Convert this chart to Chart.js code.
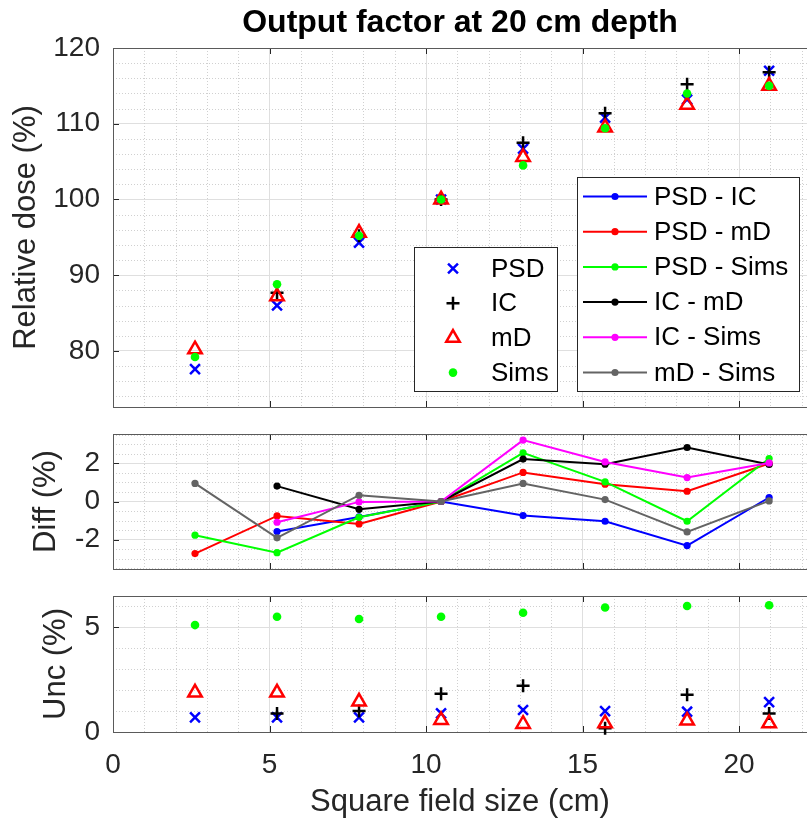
<!DOCTYPE html>
<html>
<head>
<meta charset="utf-8">
<script src="https://cdn.jsdelivr.net/npm/chart.js@4.4.0/dist/chart.umd.min.js"></script>
<style>
  html, body { margin: 0; padding: 0; background: #fff; }
  #wrap { position: relative; width: 807px; height: 825px; overflow: hidden; }
  #wrap canvas { position: absolute; left: 0; top: 0; }
</style>
</head>
<body>
<div id="wrap">
  <canvas id="doseChart" width="807" height="825"></canvas>
  <canvas id="diffChart" width="807" height="825"></canvas>
  <canvas id="uncChart" width="807" height="825"></canvas>
</div>
<script>
// square field sizes (cm)
const fieldSize = [2.62, 5.24, 7.86, 10.48, 13.1, 15.72, 18.34, 20.96];

// relative dose (%)
const dosePSD  = [77.6, 86.0, 94.3, 100, 106.7, 110.8, 113.2, 117.0];
const doseIC   = [null, 87.7, 95.2, 100, 107.5, 111.4, 115.2, 116.8];
const doseMD   = [80.2, 87.2, 95.6, 100, 105.6, 109.5, 112.5, 115.0];
const doseSims = [79.2, 88.8, 95.2, 100, 104.5, 109.4, 114.0, 115.0];

// differences (%)
const diffPsdIc   = [null, -1.58, -0.81, 0, -0.74, -1.04, -2.32, 0.21];
const diffPsdMd   = [-2.74, -0.76, -1.18, 0, 1.53, 0.91, 0.54, 2.0];
const diffPsdSims = [-1.77, -2.69, -0.83, 0, 2.56, 1.03, -1.04, 2.26];
const diffIcMd    = [null, 0.81, -0.41, 0, 2.23, 1.96, 2.84, 1.95];
const diffIcSims  = [null, -1.09, -0.02, 0, 3.23, 2.08, 1.26, 2.03];
const diffMdSims  = [0.95, -1.91, 0.33, 0, 0.95, 0.10, -1.60, 0.03];

// uncertainties (%)
const uncPSD  = [0.70, 0.70, 0.70, 0.89, 1.05, 1.00, 0.97, 1.43];
const uncIC   = [null, 0.89, 1.00, 1.83, 2.21, 0.18, 1.78, 0.89];
const uncMD   = [1.88, 1.88, 1.45, 0.57, 0.38, 0.41, 0.54, 0.41];
const uncSims = [5.11, 5.51, 5.40, 5.51, 5.70, 5.95, 6.02, 6.06];

// tick labels
const xTicks = [0, 5, 10, 15, 20];
const doseTicks = [80, 90, 100, 110, 120];
const diffTicks = [-2, 0, 2];
const uncTicks = [0, 5];

const markerNames = ['PSD', 'IC', 'mD', 'Sims'];
const pairNames = ['PSD - IC', 'PSD - mD', 'PSD - Sims', 'IC - mD', 'IC - Sims', 'mD - Sims'];

// styles
const FONT = '"Liberation Sans", Arial, Helvetica, sans-serif';
const TXT = '#262626';
const markerStyle = [
  { pointStyle: 'crossRot', radius: 7, color: '#0000ff', fill: false, width: 2.5 },
  { pointStyle: 'cross', radius: 6.5, color: '#000000', fill: false, width: 2.5 },
  { pointStyle: 'triangle', radius: 7.8, color: '#ff0000', fill: false, width: 2.5 },
  { pointStyle: 'circle', radius: 4.3, color: '#00ff00', fill: true, width: 0 }
];
const pairColors = ['#0000ff', '#ff0000', '#00ff00', '#000000', '#ff00ff', '#646464'];
const xMax = 22.17;

function pts(arr) {
  return fieldSize.map((x, i) => ({ x: x, y: arr[i] }));
}

function markerSet(i, arr) {
  const m = markerStyle[i];
  return {
    label: markerNames[i],
    data: pts(arr),
    showLine: false,
    order: 10 - i,
    clip: false,
    pointStyle: m.pointStyle,
    pointRadius: m.radius,
    pointBorderColor: m.color,
    pointBackgroundColor: m.fill ? m.color : 'rgba(0,0,0,0)',
    pointBorderWidth: m.width
  };
}

function pairSet(i, arr) {
  return {
    label: pairNames[i],
    data: pts(arr),
    showLine: true,
    order: 10 - i,
    borderColor: pairColors[i],
    borderWidth: 2,
    pointStyle: 'circle',
    pointRadius: 3.6,
    pointBackgroundColor: pairColors[i],
    pointBorderColor: pairColors[i],
    pointBorderWidth: 0
  };
}

// matlab like box, inward ticks and dotted minor grid
const axesBox = {
  id: 'axesBox',
  beforeDatasetsDraw(chart, args, opts) {
    const { ctx, chartArea: a } = chart;
    const xs = chart.scales.x, ys = chart.scales.y;
    ctx.save();
    ctx.lineWidth = 1;
    ctx.strokeStyle = '#d0d0d0';
    ctx.setLineDash([1, 2]);
    const isMajor = (v, step) => Math.abs(v / step - Math.round(v / step)) < 1e-6;
    for (let i = Math.ceil(xs.min / opts.xMinor); i * opts.xMinor <= xs.max; i++) {
      const v = i * opts.xMinor;
      if (isMajor(v, 5)) continue;
      const px = Math.round(xs.getPixelForValue(v)) + 0.5;
      ctx.beginPath(); ctx.moveTo(px, a.top); ctx.lineTo(px, a.bottom); ctx.stroke();
    }
    for (let i = Math.ceil(ys.min / opts.yMinor); i * opts.yMinor <= ys.max; i++) {
      const v = i * opts.yMinor;
      if (isMajor(v, opts.yMajor)) continue;
      const py = Math.round(ys.getPixelForValue(v)) + 0.5;
      ctx.beginPath(); ctx.moveTo(a.left, py); ctx.lineTo(a.right, py); ctx.stroke();
    }
    ctx.setLineDash([]);
    ctx.strokeStyle = TXT;
    xTicks.forEach(v => {
      const px = Math.round(xs.getPixelForValue(v)) + 0.5;
      ctx.beginPath();
      ctx.moveTo(px, a.top); ctx.lineTo(px, a.top + 6);
      ctx.moveTo(px, a.bottom); ctx.lineTo(px, a.bottom - 6);
      ctx.stroke();
    });
    ys.ticks.forEach(t => {
      const py = Math.round(ys.getPixelForValue(t.value)) + 0.5;
      ctx.beginPath(); ctx.moveTo(a.left, py); ctx.lineTo(a.left + 6, py); ctx.stroke();
    });
    ctx.strokeStyle = '#5a5a5a';
    ctx.strokeRect(Math.round(a.left) + 0.5, Math.round(a.top) + 0.5, a.width + 4, Math.round(a.bottom) - Math.round(a.top));
    ctx.restore();
  }
};

function drawMarker(ctx, m, x, y) {
  ctx.save();
  ctx.strokeStyle = m.color;
  ctx.fillStyle = m.color;
  ctx.lineWidth = m.width;
  const r = m.radius;
  ctx.beginPath();
  if (m.pointStyle === 'crossRot') {
    const o = r * Math.SQRT1_2;
    ctx.moveTo(x - o, y - o); ctx.lineTo(x + o, y + o);
    ctx.moveTo(x - o, y + o); ctx.lineTo(x + o, y - o);
    ctx.stroke();
  } else if (m.pointStyle === 'cross') {
    ctx.moveTo(x - r, y); ctx.lineTo(x + r, y);
    ctx.moveTo(x, y - r); ctx.lineTo(x, y + r);
    ctx.stroke();
  } else if (m.pointStyle === 'triangle') {
    ctx.moveTo(x, y - r);
    ctx.lineTo(x + r * 0.866, y + r * 0.5);
    ctx.lineTo(x - r * 0.866, y + r * 0.5);
    ctx.closePath();
    ctx.stroke();
  } else {
    ctx.arc(x, y, r, 0, Math.PI * 2);
    ctx.fill();
  }
  ctx.restore();
}

const legendBoxes = {
  id: 'legendBoxes',
  afterDatasetsDraw(chart) {
    const ctx = chart.ctx;
    ctx.save();
    ctx.font = '26px ' + FONT;
    ctx.textBaseline = 'middle';
    ctx.textAlign = 'left';
    // marker legend
    ctx.fillStyle = '#fff';
    ctx.fillRect(414, 247, 143, 144);
    ctx.strokeStyle = '#262626';
    ctx.lineWidth = 1;
    ctx.strokeRect(414.5, 247.5, 143, 144);
    markerNames.forEach((name, i) => {
      const y = 268.5 + i * 34.7;
      drawMarker(ctx, markerStyle[i], 453, y);
      ctx.fillStyle = '#000';
      ctx.fillText(name, 491, y + 1);
    });
    // line legend
    ctx.fillStyle = '#fff';
    ctx.fillRect(577, 177, 222, 214);
    ctx.strokeStyle = '#262626';
    ctx.strokeRect(577.5, 177.5, 222, 214);
    pairNames.forEach((name, i) => {
      const y = 196.5 + i * 35.2;
      ctx.strokeStyle = pairColors[i];
      ctx.lineWidth = 2;
      ctx.beginPath(); ctx.moveTo(583, y); ctx.lineTo(647, y); ctx.stroke();
      ctx.fillStyle = pairColors[i];
      ctx.beginPath(); ctx.arc(615, y, 3.6, 0, Math.PI * 2); ctx.fill();
      ctx.fillStyle = '#000';
      ctx.fillText(name, 654, y + 1);
    });
    ctx.restore();
  }
};

function xScale(showLabels) {
  return {
    type: 'linear', min: 0, max: xMax,
    afterBuildTicks: s => { s.ticks = xTicks.map(v => ({ value: v })); },
    grid: { color: '#dfdfdf', drawTicks: false },
    border: { display: false },
    ticks: { display: showLabels, autoSkip: false, maxRotation: 0, padding: 16, color: TXT, font: { family: FONT, size: 28 } },
    title: showLabels ? { display: true, text: 'Square field size (cm)', color: TXT, font: { family: FONT, size: 31, lineHeight: 1.2 }, padding: { top: 0, bottom: 4 } } : { display: false },
    afterFit: s => {
      s.height = showLabels ? 93 : 0;
      s.paddingLeft = 0;
      s.paddingRight = 0;
    }
  };
}

function yScale(min, max, ticks, title, titlePad) {
  return {
    type: 'linear', min: min, max: max,
    afterBuildTicks: s => { s.ticks = ticks.map(v => ({ value: v })); },
    grid: { color: '#dfdfdf', drawTicks: false },
    border: { display: false },
    ticks: { padding: 13, color: TXT, font: { family: FONT, size: 28 } },
    title: { display: true, text: title, color: TXT, font: { family: FONT, size: 31, lineHeight: 1 }, padding: { top: titlePad, bottom: 0 } },
    afterFit: s => {
      s.width = 113;
      s.paddingTop = 0;
      s.paddingBottom = 0;
    }
  };
}

const baseOptions = {
  responsive: false,
  animation: false,
  events: []
};

// top panel: relative dose
new Chart(document.getElementById('doseChart'), {
  type: 'scatter',
  data: { datasets: [markerSet(0, dosePSD), markerSet(1, doseIC), markerSet(2, doseMD), markerSet(3, doseSims)] },
  options: Object.assign({}, baseOptions, {
    layout: { autoPadding: false, padding: { left: 0, right: 0, top: 0, bottom: 418 } },
    plugins: { legend: { display: false }, tooltip: { enabled: false }, axesBox: { xMinor: 1, yMinor: 2, yMajor: 10 } },
    scales: {
      x: xScale(false),
      xTop: {
        type: 'linear', position: 'top', min: 0, max: xMax,
        grid: { display: false }, border: { display: false }, ticks: { display: false },
        title: { display: true, text: 'Output factor at 20 cm depth', color: '#000', font: { family: FONT, size: 32, weight: 'bold', lineHeight: 1.2 }, padding: { top: 4, bottom: 0 } },
        afterFit: s => { s.height = 48; s.paddingLeft = 0; s.paddingRight = 0; }
      },
      y: yScale(72.6, 120, doseTicks, 'Relative dose (%)', 11)
    }
  }),
  plugins: [axesBox, legendBoxes]
});

// middle panel: differences
new Chart(document.getElementById('diffChart'), {
  type: 'scatter',
  data: { datasets: [pairSet(0, diffPsdIc), pairSet(1, diffPsdMd), pairSet(2, diffPsdSims), pairSet(3, diffIcMd), pairSet(4, diffIcSims), pairSet(5, diffMdSims)] },
  options: Object.assign({}, baseOptions, {
    layout: { autoPadding: false, padding: { left: 0, right: 0, top: 434, bottom: 256 } },
    plugins: { legend: { display: false }, tooltip: { enabled: false }, axesBox: { xMinor: 1, yMinor: 0.5, yMajor: 2 } },
    scales: {
      x: xScale(false),
      y: yScale(-3.55, 3.55, diffTicks, 'Diff (%)', 31)
    }
  }),
  plugins: [axesBox]
});

// bottom panel: uncertainties
new Chart(document.getElementById('uncChart'), {
  type: 'scatter',
  data: { datasets: [markerSet(0, uncPSD), markerSet(1, uncIC), markerSet(2, uncMD), markerSet(3, uncSims)] },
  options: Object.assign({}, baseOptions, {
    layout: { autoPadding: false, padding: { left: 0, right: 0, top: 596, bottom: 0 } },
    plugins: { legend: { display: false }, tooltip: { enabled: false }, axesBox: { xMinor: 1, yMinor: 1, yMajor: 5 } },
    scales: {
      x: xScale(true),
      y: yScale(0, 6.5, uncTicks, 'Unc (%)', 41)
    }
  }),
  plugins: [axesBox]
});
</script>
</body>
</html>
